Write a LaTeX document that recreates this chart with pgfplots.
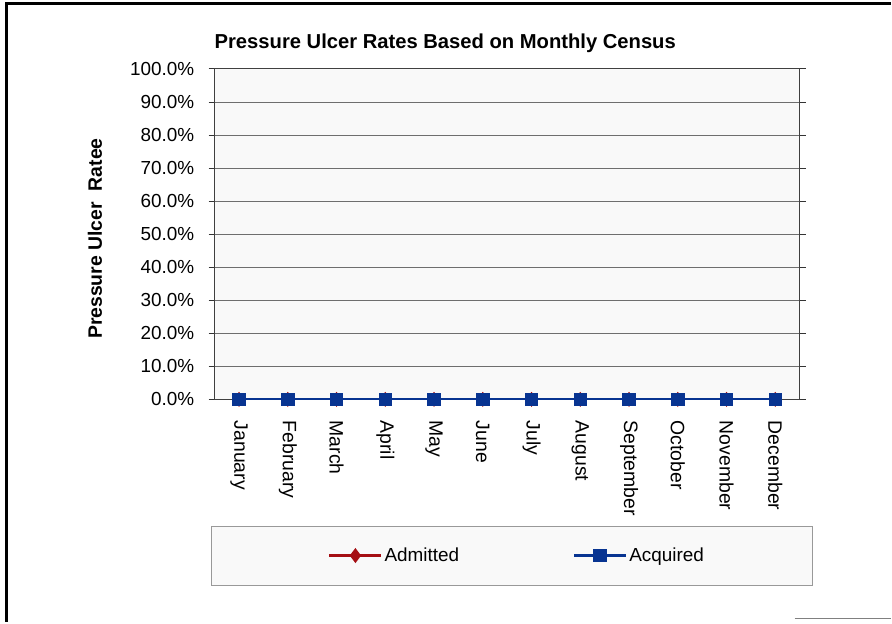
\documentclass[border=0pt]{standalone}
\usepackage{pgfplots}
\pgfplotsset{compat=1.18}
\usepackage{fontspec}
\setmainfont{Liberation Sans}

\definecolor{admred}{RGB}{165,15,20}
\definecolor{acqblue}{RGB}{8,52,145}
\definecolor{panel}{RGB}{249,249,249}

\begin{document}
\begin{tikzpicture}
  % page area and frame
  \path (0,0) rectangle (892bp,623bp);
  \draw[line width=3bp] (7bp,0bp) -- (7bp,619bp) -- (892bp,619bp);
  \draw[gray, line width=1bp] (796bp,3bp) -- (892bp,3bp);

  % legend box
  \draw[gray!80, line width=0.8bp, fill=panel] (212bp,37bp) rectangle (814bp,96bp);

  % title and y label
  \node[font=\fontsize{20.3}{23}\selectfont\bfseries] at (446bp,580bp)
    {Pressure Ulcer Rates Based on Monthly Census};
  \node[font=\fontsize{19.5}{22}\selectfont\bfseries, rotate=90] at (95bp,384bp)
    {Pressure Ulcer\ \ Ratee};

  \begin{axis}[
      at={(215bp,223bp)}, anchor=south west,
      scale only axis,
      width=586bp, height=331bp,
      xmin=-0.5, xmax=11.5,
      ymin=0, ymax=100,
      axis background/.style={fill=panel},
      axis line style={black!75, line width=0.9bp},
      ytick={0,10,...,100},
      yticklabels={0.0\%,10.0\%,20.0\%,30.0\%,40.0\%,50.0\%,60.0\%,70.0\%,80.0\%,90.0\%,100.0\%},
      xtick={0,...,11},
      xticklabels={January,February,March,April,May,June,July,August,September,October,November,December},
      minor xtick={-0.5,0.5,...,11.5},
      xtick style={draw=none},
      minor tick length=4bp,
      major tick length=6bp,
      tick align=outside,
      tick style={black!80, line width=0.8bp},
      ymajorgrids,
      grid style={gray!60!black, line width=0.8bp, opacity=0.8},
      tick label style={font=\fontsize{19}{21}\selectfont},
      xticklabel style={rotate=-90, anchor=west, font=\fontsize{19.5}{21}\selectfont},
      xticklabel shift={12bp},
      yticklabel shift={11bp},
      legend columns=2,
      legend style={at={(0.517,-0.4728)}, anchor=center, draw=none, fill=none,
        font=\fontsize{19}{21}\selectfont,
        /tikz/every even column/.append style={column sep=112bp}},
      legend image code/.code={%
        \draw[mark repeat=2, mark phase=2, #1]
          plot coordinates {(0bp,0bp) (26bp,0bp) (52bp,0bp)};},
    ]
    \addplot[admred, line width=2.5bp, mark=diamond*,
      mark options={fill=admred, solid}, mark size=5.5bp]
      coordinates {(0,0)(1,0)(2,0)(3,0)(4,0)(5,0)(6,0)(7,0)(8,0)(9,0)(10,0)(11,0)};
    \addlegendentry{Admitted}
    \addplot[acqblue, line width=2.5bp, mark=square*,
      mark options={fill=acqblue, solid}, mark size=5.5bp]
      coordinates {(0,0)(1,0)(2,0)(3,0)(4,0)(5,0)(6,0)(7,0)(8,0)(9,0)(10,0)(11,0)};
    \addlegendentry{Acquired}
  \end{axis}
\end{tikzpicture}
\end{document}
